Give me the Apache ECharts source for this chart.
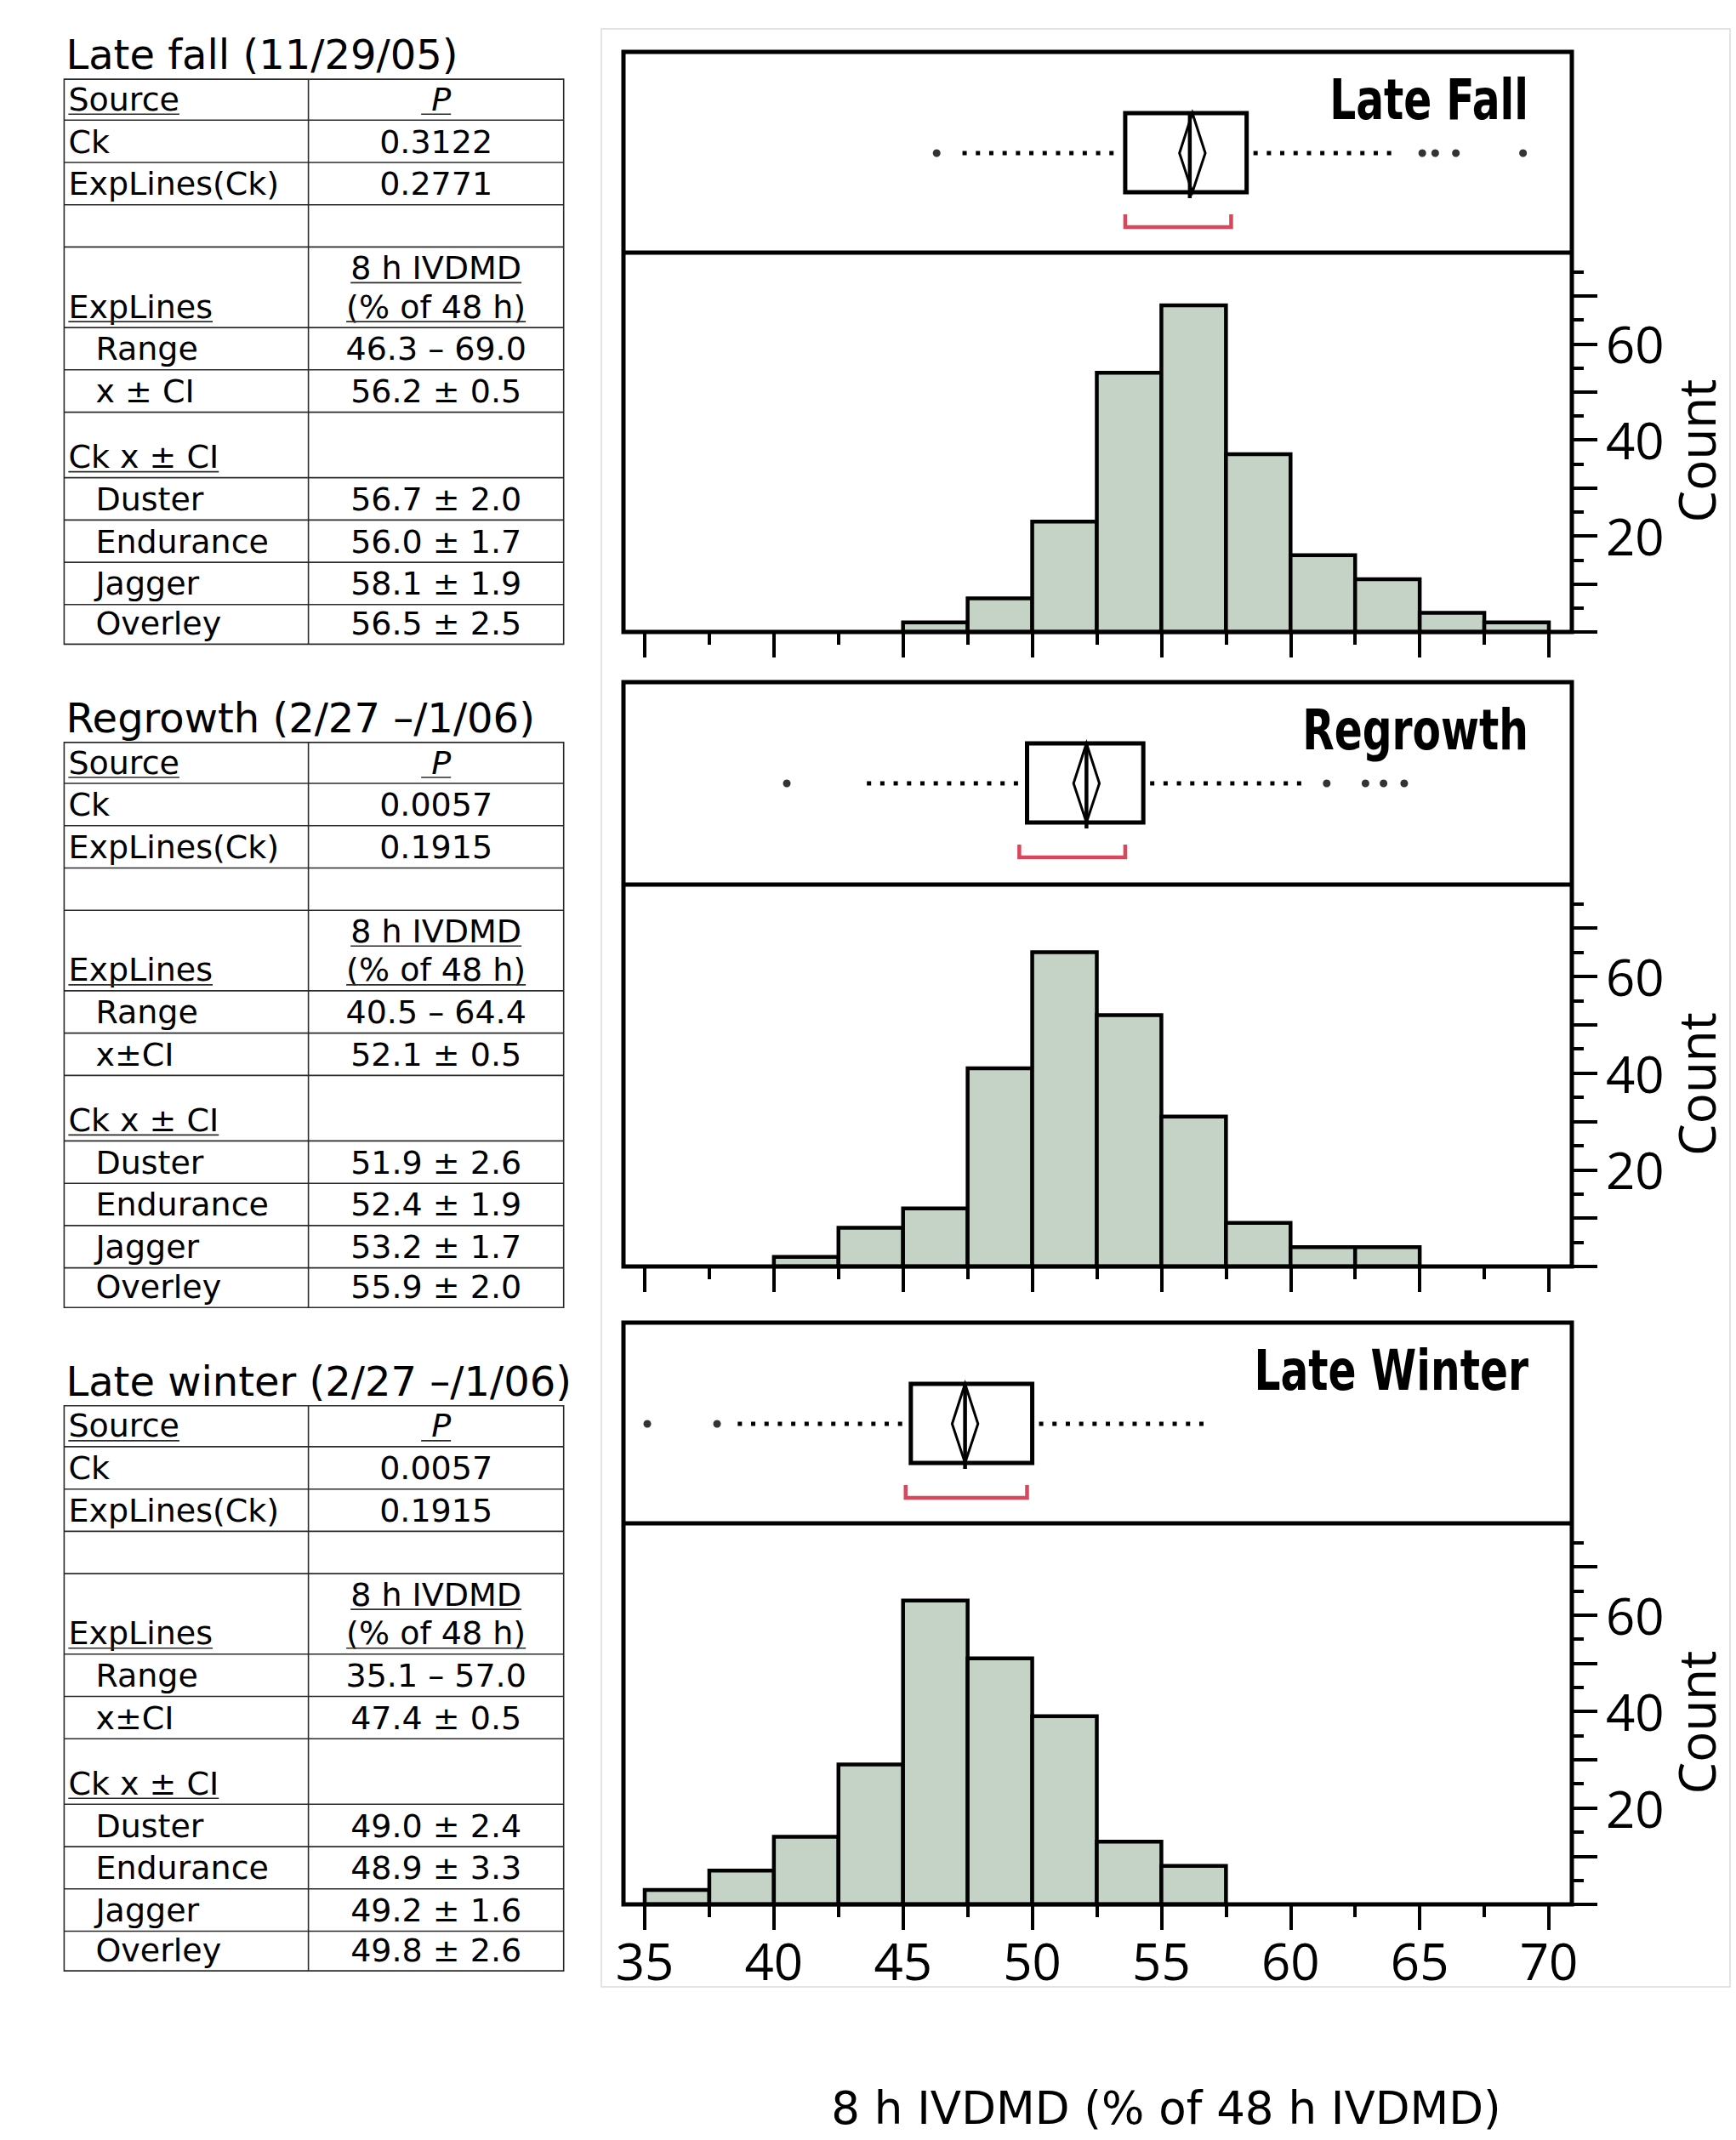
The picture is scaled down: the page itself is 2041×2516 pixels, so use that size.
<!DOCTYPE html>
<html><head><meta charset="utf-8">
<script src="https://cdn.jsdelivr.net/npm/echarts@6/dist/echarts.min.js"></script>
<style>html,body{margin:0;padding:0;background:#fff}#c{width:2041px;height:2516px}</style>
</head><body><div id="c"></div>
<script>
// ---------------- data ----------------
const panelTitles = ['Late Fall', 'Regrowth', 'Late Winter'];
const countAxisName = 'Count';

const lateFallBinStarts = [45, 47.5, 50, 52.5, 55, 57.5, 60, 62.5, 65, 67.5];
const lateFallCounts    = [2, 7, 23, 54, 68, 37, 16, 11, 4, 2];
const regrowthBinStarts = [40, 42.5, 45, 47.5, 50, 52.5, 55, 57.5, 60, 62.5];
const regrowthCounts    = [2, 8, 12, 41, 65, 52, 31, 9, 4, 4];
const lateWinterBinStarts = [35, 37.5, 40, 42.5, 45, 47.5, 50, 52.5, 55];
const lateWinterCounts    = [3, 7, 14, 29, 63, 51, 39, 13, 8];
const binWidth = 2.5;

// [q1, q3, median, mean, ci, whiskerLow, whiskerHigh, shortestHalfLow, shortestHalfHigh]
const lateFallBox   = [53.6, 58.3, 56.1, 56.2, 0.5, 47.3, 64.1, 53.6, 57.7];
const regrowthBox   = [49.8, 54.3, 52.1, 52.1, 0.5, 43.6, 60.6, 49.5, 53.6];
const lateWinterBox = [45.3, 50.0, 47.4, 47.4, 0.5, 38.6, 56.8, 45.1, 49.8];
const lateFallOutliers   = [46.3, 65.1, 65.6, 66.4, 69.0];
const regrowthOutliers   = [40.5, 61.4, 62.9, 63.6, 64.4];
const lateWinterOutliers = [35.1, 37.8];

const xTickLabels = [35, 40, 45, 50, 55, 60, 65, 70];
const countTickLabels = [20, 40, 60];
const countMajorTicks = [0, 10, 20, 30, 40, 50, 60, 70];
const countMinorTicks = [5, 15, 25, 35, 45, 55, 65, 75];

const xAxisTitle = '8 h IVDMD (% of 48 h IVDMD)';

const tableTitles = ['Late fall (11/29/05)', 'Regrowth (2/27 \u2013/1/06)', 'Late winter (2/27 \u2013/1/06)'];
const pCk = ['0.3122', '0.0057', '0.0057'];
const pExpLinesCk = ['0.2771', '0.1915', '0.1915'];
const rangeText = ['46.3 \u2013 69.0', '40.5 \u2013 64.4', '35.1 \u2013 57.0'];
const meanCILabel = ['x \u00b1 CI', 'x\u00b1CI', 'x\u00b1CI'];
const meanCIText = ['56.2 \u00b1 0.5', '52.1 \u00b1 0.5', '47.4 \u00b1 0.5'];
const checkNames = ['Duster', 'Endurance', 'Jagger', 'Overley'];
const checkMeans = [
  ['56.7 \u00b1 2.0', '56.0 \u00b1 1.7', '58.1 \u00b1 1.9', '56.5 \u00b1 2.5'],
  ['51.9 \u00b1 2.6', '52.4 \u00b1 1.9', '53.2 \u00b1 1.7', '55.9 \u00b1 2.0'],
  ['49.0 \u00b1 2.4', '48.9 \u00b1 3.3', '49.2 \u00b1 1.6', '49.8 \u00b1 2.6']
];

// ---------------- layout / style ----------------
const PANEL_TOP = [61, 802, 1555];
const BOX_H = [236, 238, 236];
const HIST_H = [446, 449, 448];
const AX_L = 758, AX_W = 1063;
const FRAME_L = 733, FRAME_R = 1848;
const Y_MAX = 79;
const BOX_TOP = 72, BOX_BOT = 165, BOX_MID = 119, BR_TOP = 191, BR_BOT = 206, MED_EXT = 7;
const BAR_FILL = '#c5d2c6';
const RED = '#d8475c';
const NUM_FONT = "'Open Sans', 'Noto Sans', sans-serif";
const TITLE_FONT = "'DejaVu Sans', sans-serif";
const TABLE_FONT = "'DejaVu Sans', sans-serif";
const TITLE_SIZE = 66, TITLE_TARGET_W = 234;
const COUNT_X = 1994, COUNT_DY = 10;

const panels = [
  {bins: lateFallBinStarts, counts: lateFallCounts, box: lateFallBox, out: lateFallOutliers},
  {bins: regrowthBinStarts, counts: regrowthCounts, box: regrowthBox, out: regrowthOutliers},
  {bins: lateWinterBinStarts, counts: lateWinterCounts, box: lateWinterBox, out: lateWinterOutliers}
];

const mctx = document.createElement('canvas').getContext('2d');
function textW(text, size, family, style, weight) {
  mctx.font = (style || 'normal') + ' normal ' + (weight || 'normal') + ' ' + size + 'px ' + family;
  return mctx.measureText(text).width;
}
const titleCondense = TITLE_TARGET_W / textW(panelTitles[0], TITLE_SIZE, TITLE_FONT, 'normal', 'bold');

function renderHist(params, api) {
  const x0 = api.value(0), x1 = api.value(1), c = api.value(2);
  const p0 = api.coord([x0, 0]);
  const p1 = api.coord([x1, c]);
  return {
    type: 'rect',
    shape: {x: p0[0], y: p1[1], width: p1[0] - p0[0], height: p0[1] - p1[1]},
    style: {fill: BAR_FILL, stroke: '#000', lineWidth: 4.5}
  };
}

function renderBox(params, api) {
  const q1 = api.value(0), q3 = api.value(1), med = api.value(2), mean = api.value(3), ci = api.value(4);
  const wl = api.value(5), wh = api.value(6), bl = api.value(7), bh = api.value(8);
  const c = (x, y) => api.coord([x, y]);
  const dotted = {stroke: '#000', lineWidth: 5, lineDash: [5, 10.7], lineCap: 'butt'};
  const a = c(q1, BOX_TOP), b = c(q3, BOX_BOT);
  return {
    type: 'group',
    children: [
      {type: 'line', shape: {x1: c(wl, BOX_MID)[0], y1: c(wl, BOX_MID)[1], x2: c(q1, BOX_MID)[0] - 6, y2: c(q1, BOX_MID)[1]}, style: dotted},
      {type: 'line', shape: {x1: c(q3, BOX_MID)[0] + 8, y1: c(q3, BOX_MID)[1], x2: c(wh, BOX_MID)[0] + 2, y2: c(wh, BOX_MID)[1]}, style: dotted},
      {type: 'rect', shape: {x: a[0], y: a[1], width: b[0] - a[0], height: b[1] - a[1]}, style: {fill: '#fff', stroke: '#000', lineWidth: 5}},
      {type: 'polygon', shape: {points: [c(mean - ci, BOX_MID), c(mean, BOX_TOP), c(mean + ci, BOX_MID), c(mean, BOX_BOT)]}, style: {fill: 'none', stroke: '#000', lineWidth: 3}},
      {type: 'line', shape: {x1: c(med, BOX_TOP)[0], y1: c(med, BOX_TOP)[1], x2: c(med, BOX_BOT + MED_EXT)[0], y2: c(med, BOX_BOT + MED_EXT)[1]}, style: {stroke: '#000', lineWidth: 4.5}},
      {type: 'polyline', shape: {points: [c(bl, BR_TOP), c(bl, BR_BOT), c(bh, BR_BOT), c(bh, BR_TOP)]}, style: {fill: 'none', stroke: RED, lineWidth: 4.5}}
    ]
  };
}

const grid = [], xAxis = [], yAxis = [], series = [], graphics = [];

// faint outer frame of the figure area
graphics.push({type: 'rect', z: 1, silent: true, shape: {x: 707, y: 34, width: 1327, height: 2302}, style: {fill: 'none', stroke: '#dcdcdc', lineWidth: 1.5}});

panels.forEach((p, i) => {
  const top = PANEL_TOP[i];
  grid.push({left: AX_L, width: AX_W, top: top, height: BOX_H[i]});
  grid.push({left: AX_L, width: AX_W, top: top + BOX_H[i], height: HIST_H[i]});
  xAxis.push({gridIndex: 2 * i, type: 'value', min: 35, max: 70, show: false});
  xAxis.push({
    gridIndex: 2 * i + 1, type: 'value', min: 35, max: 70, interval: 5,
    axisLine: {show: false},
    axisTick: {show: true, length: 30, lineStyle: {color: '#000', width: 4}},
    minorTick: {show: true, splitNumber: 2, length: 15, lineStyle: {color: '#000', width: 4}},
    splitLine: {show: false}, minorSplitLine: {show: false},
    axisLabel: {show: i === 2, customValues: xTickLabels, fontSize: 60, fontFamily: NUM_FONT, color: '#000', margin: 36}
  });
  yAxis.push({gridIndex: 2 * i, type: 'value', min: 0, max: BOX_H[i], inverse: true, show: false});
  yAxis.push({
    gridIndex: 2 * i + 1, type: 'value', position: 'right', offset: FRAME_R - (AX_L + AX_W), min: 0, max: Y_MAX,
    axisLine: {show: false},
    axisTick: {show: true, customValues: countMajorTicks, length: 30, lineStyle: {color: '#000', width: 4}},
    splitLine: {show: false},
    axisLabel: {show: true, customValues: countTickLabels, fontSize: 60, fontFamily: NUM_FONT, color: '#000', margin: 40}
  });
  yAxis.push({
    gridIndex: 2 * i + 1, type: 'value', position: 'right', offset: FRAME_R - (AX_L + AX_W), min: 0, max: Y_MAX,
    axisLine: {show: false},
    axisTick: {show: true, customValues: countMinorTicks, length: 14, lineStyle: {color: '#000', width: 4}},
    splitLine: {show: false},
    axisLabel: {show: false}
  });

  series.push({
    type: 'custom', name: panelTitles[i] + ' histogram',
    xAxisIndex: 2 * i + 1, yAxisIndex: 3 * i + 1,
    renderItem: renderHist, silent: true,
    encode: {x: [0, 1], y: 2},
    data: p.bins.map((b, k) => [b, b + binWidth, p.counts[k]])
  });
  series.push({
    type: 'custom', name: panelTitles[i] + ' box',
    xAxisIndex: 2 * i, yAxisIndex: 3 * i,
    renderItem: renderBox, silent: true,
    encode: {x: [0, 1], y: []},
    data: [p.box]
  });
  series.push({
    type: 'scatter', name: panelTitles[i] + ' outliers',
    xAxisIndex: 2 * i, yAxisIndex: 3 * i, silent: true,
    symbol: 'circle', symbolSize: 9, itemStyle: {color: '#000'},
    data: p.out.map(v => [v, BOX_MID])
  });

  // panel frame, separator, title and count axis name
  graphics.push({type: 'rect', z: 10, silent: true, shape: {x: FRAME_L, y: top, width: FRAME_R - FRAME_L, height: BOX_H[i] + HIST_H[i]}, style: {fill: 'none', stroke: '#000', lineWidth: 5}});
  graphics.push({type: 'line', z: 10, silent: true, shape: {x1: FRAME_L, y1: top + BOX_H[i], x2: FRAME_R, y2: top + BOX_H[i]}, style: {stroke: '#000', lineWidth: 5}});
  graphics.push({type: 'text', z: 10, silent: true, x: 1797, y: top + 56, scaleX: titleCondense, scaleY: 1,
    style: {text: panelTitles[i], fontSize: TITLE_SIZE, fontWeight: 'bold', fontFamily: TITLE_FONT, fill: '#000', align: 'right', verticalAlign: 'middle', textAlign: 'right', textVerticalAlign: 'middle'}});
  graphics.push({type: 'text', z: 10, silent: true, x: COUNT_X, y: top + BOX_H[i] + HIST_H[i] / 2 + COUNT_DY, rotation: Math.PI / 2,
    style: {text: countAxisName, fontSize: 60, fontFamily: NUM_FONT, fill: '#000', align: 'center', verticalAlign: 'middle', textAlign: 'center', textVerticalAlign: 'middle'}});
});

// x axis title
graphics.push({type: 'text', z: 10, silent: true, x: 1371, y: 2478,
  style: {text: xAxisTitle, fontSize: 53, fontFamily: TABLE_FONT, fill: '#000', align: 'center', verticalAlign: 'middle', textAlign: 'center', textVerticalAlign: 'middle'}});

// ---------------- tables ----------------
const TABLE_TOP = [93.1, 872.9, 1652.8];
const ROW_H = [48.1, 49.8, 49.7, 49.7, 94.7, 49.7, 49.8, 77, 49.8, 49.7, 49.7, 46.6];
const T_L = 75.4, T_M = 362.6, T_R = 662.7;
const T_FS = 38;
const LINE_C = '#2b2b2b';

function tText(x, y, text, opt) {
  opt = opt || {};
  const fs = opt.size || T_FS;
  const st = opt.italic ? 'italic' : 'normal';
  const align = opt.align || 'left';
  graphics.push({type: 'text', z: 5, silent: true, x: x, y: y,
    style: {text: text, fontSize: fs, fontFamily: TABLE_FONT, fontStyle: st, fill: '#000', align: align, verticalAlign: 'middle', textAlign: align, textVerticalAlign: 'middle'}});
  if (opt.underline) {
    const w = textW(text, fs, TABLE_FONT, st);
    const x0 = align === 'center' ? x - w / 2 : x;
    graphics.push({type: 'line', z: 5, silent: true, shape: {x1: x0, y1: y + 17.5, x2: x0 + w, y2: y + 17.5}, style: {stroke: LINE_C, lineWidth: 1.6}});
  }
}

tableTitles.forEach((title, t) => {
  const top = TABLE_TOP[t];
  const ys = [top];
  ROW_H.forEach(h => ys.push(ys[ys.length - 1] + h));
  const bottom = ys[ys.length - 1];
  graphics.push({type: 'rect', z: 5, silent: true, shape: {x: T_L, y: top, width: T_R - T_L, height: bottom - top}, style: {fill: 'none', stroke: LINE_C, lineWidth: 1.6}});
  ys.slice(1, -1).forEach(y => graphics.push({type: 'line', z: 5, silent: true, shape: {x1: T_L, y1: y, x2: T_R, y2: y}, style: {stroke: LINE_C, lineWidth: 1.6}}));
  graphics.push({type: 'line', z: 5, silent: true, shape: {x1: T_M, y1: top, x2: T_M, y2: bottom}, style: {stroke: LINE_C, lineWidth: 1.6}});
  tText(T_L + 2, top - 29, title, {size: 48});

  const leftCells = [
    {text: 'Source', underline: true}, {text: 'Ck'}, {text: 'ExpLines(Ck)'}, null,
    {text: 'ExpLines', underline: true}, {text: 'Range', indent: true}, {text: meanCILabel[t], indent: true},
    {text: 'Ck x \u00b1 CI', underline: true}
  ].concat(checkNames.map(n => ({text: n, indent: true})));
  const rightCells = [
    {text: ' P', underline: true, italic: true}, {text: pCk[t]}, {text: pExpLinesCk[t]}, null,
    {text: '(% of 48 h)', underline: true, topLine: '8 h IVDMD'}, {text: rangeText[t]}, {text: meanCIText[t]}, null
  ].concat(checkMeans[t].map(v => ({text: v})));
  const cx = (T_M + T_R) / 2;
  for (let r = 0; r < ROW_H.length; r++) {
    const yb = ys[r + 1] - 24.5;
    const lc = leftCells[r];
    if (lc) tText(lc.indent ? T_L + 37 : T_L + 5, yb, lc.text, {underline: lc.underline});
    const rc = rightCells[r];
    if (rc) {
      tText(cx, yb, rc.text, {align: 'center', underline: rc.underline, italic: rc.italic});
      if (rc.topLine) tText(cx, ys[r] + 24.5, rc.topLine, {align: 'center', underline: true});
    }
  }
});

const chart = echarts.init(document.getElementById('c'), null, {renderer: 'svg', width: 2041, height: 2516});
chart.setOption({
  backgroundColor: '#fff',
  animation: false,
  grid: grid,
  xAxis: xAxis,
  yAxis: yAxis,
  series: series,
  graphic: {elements: graphics}
});
</script>
</body></html>
